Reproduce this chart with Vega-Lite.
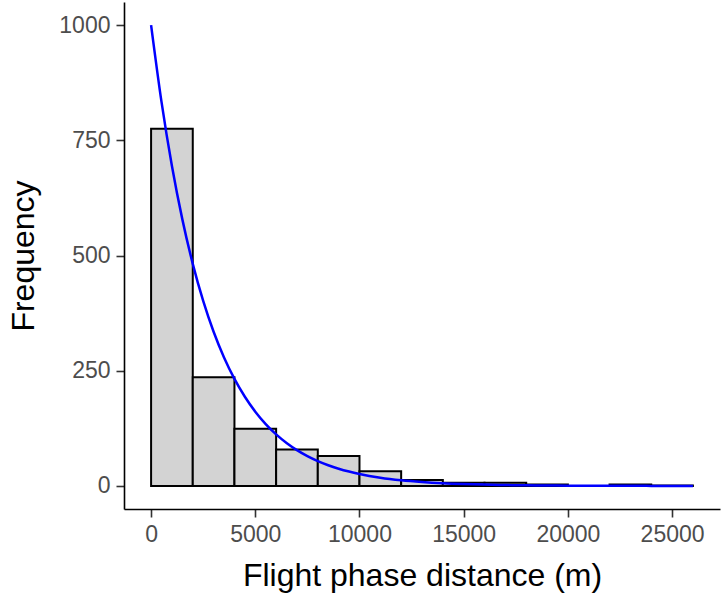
{
  "$schema": "https://vega.github.io/schema/vega-lite/v6.json",
  "width": 596,
  "height": 507,
  "autosize": {"type": "none"},
  "padding": {"left": 124, "top": 2, "right": 5, "bottom": 89},
  "background": "white",
  "config": {
    "view": {"stroke": null},
    "font": "Liberation Sans",
    "axis": {
      "grid": false,
      "domainColor": "black",
      "domainWidth": 1.6,
      "tickColor": "#333333",
      "tickWidth": 1.6,
      "tickSize": 8,
      "labelColor": "#4d4d4d",
      "labelFont": "Liberation Sans",
      "labelFontSize": 23,
      "titleFont": "Liberation Sans",
      "titleFontSize": 32,
      "titleFontWeight": "normal",
      "titleColor": "black"
    }
  },
  "layer": [
    {
      "data": {
        "values": [
          {"bin_start": 0, "bin_end": 2000, "count": 775},
          {"bin_start": 2000, "bin_end": 4000, "count": 236},
          {"bin_start": 4000, "bin_end": 6000, "count": 124},
          {"bin_start": 6000, "bin_end": 8000, "count": 79},
          {"bin_start": 8000, "bin_end": 10000, "count": 65},
          {"bin_start": 10000, "bin_end": 12000, "count": 32},
          {"bin_start": 12000, "bin_end": 14000, "count": 13},
          {"bin_start": 14000, "bin_end": 16000, "count": 7},
          {"bin_start": 16000, "bin_end": 18000, "count": 7},
          {"bin_start": 18000, "bin_end": 20000, "count": 3},
          {"bin_start": 20000, "bin_end": 22000, "count": 0},
          {"bin_start": 22000, "bin_end": 24000, "count": 3},
          {"bin_start": 24000, "bin_end": 26000, "count": 1}
        ]
      },
      "mark": {"type": "rect", "fill": "#d3d3d3", "stroke": "black", "strokeWidth": 2},
      "encoding": {
        "x": {
          "field": "bin_start", "type": "quantitative",
          "scale": {"domain": [-1300, 27300], "nice": false, "zero": false},
          "axis": {"values": [0, 5000, 10000, 15000, 20000, 25000], "format": "d", "title": "Flight phase distance (m)", "labelPadding": 6, "titlePadding": 14}
        },
        "x2": {"field": "bin_end"},
        "y": {
          "field": "count", "type": "quantitative",
          "scale": {"domain": [-50, 1050], "nice": false, "zero": false},
          "axis": {"values": [0, 250, 500, 750, 1000], "format": "d", "title": "Frequency", "labelPadding": 6, "titlePadding": 18}
        },
        "y2": {"datum": 0}
      }
    },
    {
      "data": {
        "values": [
          {"x": 0, "y": 1000},
          {"x": 500, "y": 833.2},
          {"x": 1000, "y": 694.2},
          {"x": 1500, "y": 578.4},
          {"x": 2000, "y": 481.9},
          {"x": 2500, "y": 401.5},
          {"x": 3000, "y": 334.5},
          {"x": 3500, "y": 278.7},
          {"x": 4000, "y": 232.2},
          {"x": 4500, "y": 193.5},
          {"x": 5000, "y": 161.2},
          {"x": 5500, "y": 134.3},
          {"x": 6000, "y": 111.9},
          {"x": 6500, "y": 93.3},
          {"x": 7000, "y": 77.7},
          {"x": 7500, "y": 64.7},
          {"x": 8000, "y": 53.9},
          {"x": 8500, "y": 44.9},
          {"x": 9000, "y": 37.4},
          {"x": 9500, "y": 31.2},
          {"x": 10000, "y": 26.0},
          {"x": 11000, "y": 18.0},
          {"x": 12000, "y": 12.5},
          {"x": 13000, "y": 8.7},
          {"x": 14000, "y": 6.0},
          {"x": 15000, "y": 4.2},
          {"x": 16000, "y": 2.9},
          {"x": 17000, "y": 2.0},
          {"x": 18000, "y": 1.4},
          {"x": 19000, "y": 0.97},
          {"x": 20000, "y": 0.67},
          {"x": 22000, "y": 0.32},
          {"x": 24000, "y": 0.16},
          {"x": 26000, "y": 0.08}
        ]
      },
      "mark": {"type": "line", "color": "#0000ff", "strokeWidth": 2.5, "interpolate": "monotone"},
      "encoding": {
        "x": {"field": "x", "type": "quantitative"},
        "y": {"field": "y", "type": "quantitative"}
      }
    }
  ]
}
